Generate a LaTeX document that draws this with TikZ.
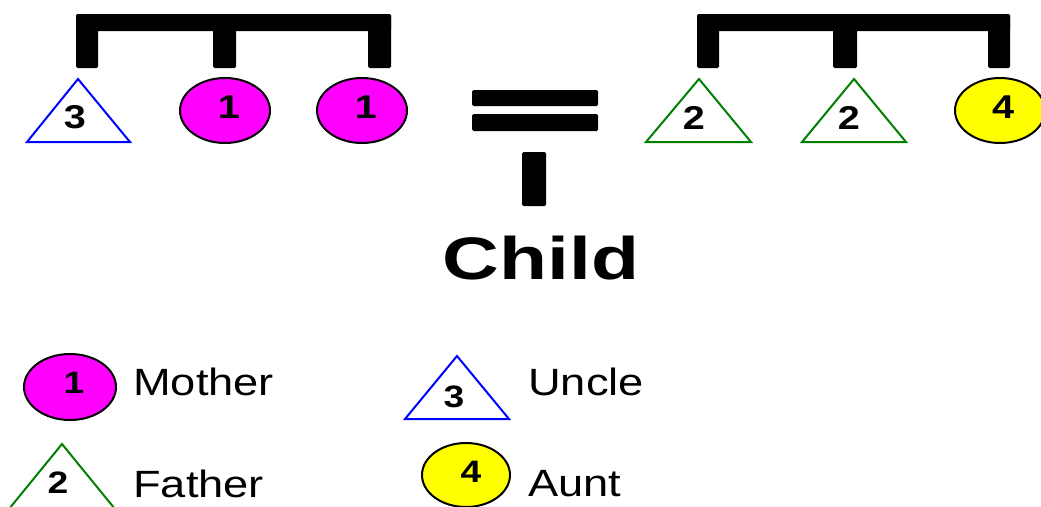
\documentclass[tikz,border=0pt]{standalone}
\usepackage{fontspec}
\setmainfont{Liberation Sans}
\definecolor{kinmag}{RGB}{255,0,255}
\definecolor{kinyel}{RGB}{255,255,0}
\definecolor{kingreen}{RGB}{0,128,0}
\definecolor{kinblue}{RGB}{0,0,255}
\begin{document}
\begin{tikzpicture}[x=1pt,y=-1pt,
  bar/.style={fill=black,rounded corners=1.5pt},
  mothershape/.style={draw=black,line width=2pt,fill=kinmag},
  auntshape/.style={draw=black,line width=2pt,fill=kinyel},
  uncleshape/.style={draw=kinblue,line width=2pt},
  fathershape/.style={draw=kingreen,line width=2pt},
  digit/.style={inner sep=0pt,font=\bfseries\fontsize{33}{33}\selectfont,xscale=1.2},
  ldigit/.style={inner sep=0pt,font=\bfseries\fontsize{31}{31}\selectfont,xscale=1.2},
  legendtext/.style={inner sep=0pt,anchor=west,font=\fontsize{38}{38}\selectfont,xscale=1.19},
  childtext/.style={inner sep=0pt,font=\bfseries\fontsize{60}{60}\selectfont,xscale=1.31}]
\useasboundingbox (0,0) rectangle (1041,506);
% left bracket
\fill[bar] (76,14) rectangle (391,31);
\fill[bar] (76,14) rectangle (98,68);
\fill[bar] (213,14) rectangle (236,68);
\fill[bar] (368,14) rectangle (391,68);
% right bracket
\fill[bar] (697,14) rectangle (1010,31);
\fill[bar] (697,14) rectangle (719,68);
\fill[bar] (833,14) rectangle (857,68);
\fill[bar] (988,14) rectangle (1010,68);
% left group
\draw[uncleshape] (78,79) -- (130,142) -- (27,142) -- cycle;
\node[digit] (u3) at (75,117) {3};
\draw[mothershape] (225,110.5) ellipse [x radius=45pt, y radius=32.5pt];
\node[digit] (m1a) at (229,107) {1};
\draw[mothershape] (362,110.5) ellipse [x radius=45pt, y radius=32.5pt];
\node[digit] (m1b) at (366,107) {1};
% equals and child bar
\fill[bar] (472,90) rectangle (598,106);
\fill[bar] (472,114) rectangle (598,131);
\fill[bar] (522,152) rectangle (546,206);
\node[childtext] (child) at (541,258.5) {Child};
% right group
\draw[fathershape] (699,79) -- (751,142) -- (646,142) -- cycle;
\node[digit] (f2a) at (694,118) {2};
\draw[fathershape] (854,79) -- (906,142) -- (802,142) -- cycle;
\node[digit] (f2b) at (849,118) {2};
\draw[auntshape] (1000,110.5) ellipse [x radius=45pt, y radius=32.5pt];
\node[digit] (a4) at (1003,107) {4};
% legend
\draw[mothershape] (70,387) ellipse [x radius=46pt, y radius=33pt];
\node[ldigit] (l1) at (74,383) {1};
\node[legendtext] (lmother) at (133,381.5) {Mother};
\draw[uncleshape] (457,356) -- (509,419) -- (405,419) -- cycle;
\node[ldigit] (l3) at (454,397) {3};
\node[legendtext] (luncle) at (528,381.5) {Uncle};
\draw[fathershape] (62,444) -- (115,509) -- (9,509) -- cycle;
\node[ldigit] (l2) at (58,483) {2};
\node[legendtext] (lfather) at (133,483.5) {Father};
\draw[auntshape] (466,475) ellipse [x radius=44pt, y radius=32pt];
\node[ldigit] (l4) at (471,472) {4};
\node[legendtext] (launt) at (528,483.5) {Aunt};
\end{tikzpicture}
\end{document}
